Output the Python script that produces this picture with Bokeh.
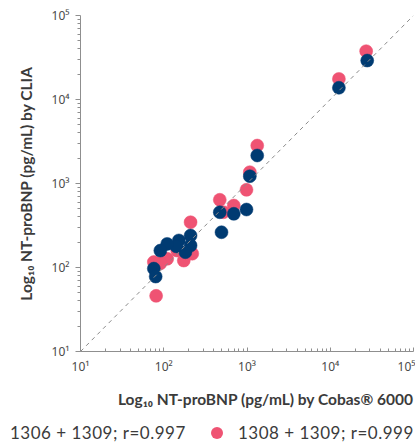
from bokeh.plotting import figure
from bokeh.layouts import column
from bokeh.models import Range1d, FixedTicker, Slope, ColumnDataSource, Div
from bokeh.embed import file_html
from bokeh.resources import INLINE

# Data (pg/mL)
cobas_1306 = [27800, 12700, 1327, 1081, 986, 694, 471, 494, 210, 210, 152, 182, 142, 110, 91, 76, 80]
clia_1306 = [29100, 13800, 2155, 1222, 490, 436, 455, 263, 240, 183, 210, 152, 178, 191, 159, 97, 78]

cobas_1308 = [27000, 12700, 1327, 1081, 986, 471, 694, 522, 210, 220, 174, 145, 110, 91, 76, 81]
clia_1308 = [37600, 17600, 2830, 1364, 841, 640, 547, 455, 346, 146, 121, 159, 127, 112, 116, 46]

major_ticks = [10, 100, 1000, 10000, 100000]
major_labels = ["10¹", "10²", "10³", "10⁴", "10⁵"]
minor_ticks = [m * d for d in [10, 100, 1000, 10000] for m in range(2, 10)]

legend_1306 = "1306 + 1309; r=0.997"
legend_1308 = "1308 + 1309; r=0.999"

BLUE = "#003b72"
PINK = "#ef5373"
TEXT = "#3b3b3b"
AXIS = "#8f8f8f"
W = 415
H_MAIN = 418
H_LEG = 24

p = figure(width=W, height=H_MAIN, x_axis_type="log", y_axis_type="log",
           x_range=Range1d(10, 100000), y_range=Range1d(10, 100000),
           output_backend="svg", toolbar_location=None,
           min_border_left=80, min_border_right=2, min_border_top=15, min_border_bottom=67)
p.outline_line_color = None
p.xgrid.visible = False
p.ygrid.visible = False
p.background_fill_color = "white"
p.border_fill_color = "white"

ticker = FixedTicker(ticks=major_ticks, minor_ticks=minor_ticks)
overrides = {float(t): l for t, l in zip(major_ticks, major_labels)}
for ax in (p.xaxis[0], p.yaxis[0]):
    ax.ticker = ticker
    ax.major_label_overrides = overrides
    ax.axis_line_color = AXIS
    ax.major_tick_line_color = AXIS
    ax.minor_tick_line_color = AXIS
    ax.major_label_text_font = "Noto Sans"
    ax.major_label_text_font_size = "12px"
    ax.major_label_text_color = "#4a4a4a"
    ax.axis_label_text_font = "Lato"
    ax.axis_label_text_font_style = "bold"
    ax.axis_label_text_font_size = "15.5px"
    ax.axis_label_text_color = TEXT

p.xaxis.major_tick_in = 4
p.xaxis.major_tick_out = 0
p.xaxis.minor_tick_in = 3
p.xaxis.minor_tick_out = 0
p.xaxis.major_label_standoff = 6
p.xaxis.axis_label_standoff = 12
p.xaxis.axis_label = "\u00a0" * 10 + "Log₁₀ NT-proBNP (pg/mL) by Cobas® 6000"

p.yaxis.major_tick_in = 0
p.yaxis.major_tick_out = 5
p.yaxis.minor_tick_in = 0
p.yaxis.minor_tick_out = 3
p.yaxis.major_label_standoff = 6
p.yaxis.axis_label_standoff = 14
p.yaxis.axis_label = "Log₁₀ NT-proBNP (pg/mL) by CLIA"

p.add_layout(Slope(gradient=1, y_intercept=0, line_color="#8a8a8a",
                   line_dash="4 4", line_width=1))

src_pink = ColumnDataSource(dict(x=cobas_1308, y=clia_1308))
src_blue = ColumnDataSource(dict(x=cobas_1306, y=clia_1306))
p.scatter("x", "y", source=src_pink, size=13, fill_color=PINK, line_color=PINK, line_width=0.5)
p.scatter("x", "y", source=src_blue, size=13, fill_color=BLUE, line_color=BLUE, line_width=0.5)

# Legend strip below the chart (HTML)
txt = (f"font-family:Lato,sans-serif;font-size:17px;line-height:17px;letter-spacing:0.5px;"
       f"color:{TEXT};white-space:nowrap;")
legend_html = (
    f'<div style="position:relative;width:{W}px;height:{H_LEG}px;overflow:hidden;">'
    f'<span style="position:absolute;left:-17px;top:9px;width:12px;height:12px;border-radius:50%;background:{BLUE};"></span>'
    f'<span style="position:absolute;left:10px;top:6px;{txt}">{legend_1306}</span>'
    f'<span style="position:absolute;left:211px;top:9px;width:12px;height:12px;border-radius:50%;background:{PINK};"></span>'
    f'<span style="position:absolute;left:238px;top:6px;{txt}">{legend_1308}</span>'
    '</div>'
)
leg = Div(text=legend_html, width=W, height=H_LEG, margin=0)

open("out.html", "w").write(file_html(column(p, leg, spacing=0), INLINE))
